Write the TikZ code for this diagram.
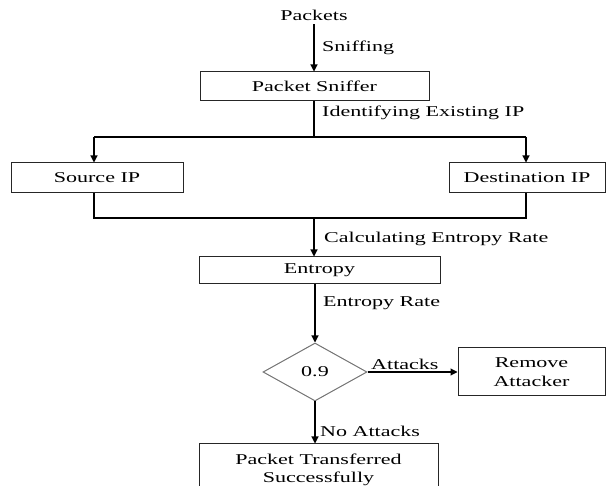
\documentclass[tikz,border=0pt]{standalone}
\usepackage{fontspec}
\setmainfont{Liberation Serif}[FakeStretch=1.47]
\usetikzlibrary{shapes.geometric,arrows.meta}
\begin{document}
\begin{tikzpicture}[x=1pt,y=-1pt,
  font=\fontsize{15}{18.5}\selectfont,
  box/.style={draw=black!85,line width=1pt,inner sep=0pt,align=center},
  dia/.style={draw=black!55,line width=1pt,diamond,inner sep=0pt,minimum width=104pt,minimum height=58pt},
  arr/.style={line width=1.1pt,-{Triangle[length=7pt,width=7pt]}},
  ln/.style={line width=1.1pt},
  lbl/.style={anchor=west,inner sep=0pt}]
\useasboundingbox (0,0) rectangle (606,486);
\clip (0,0) rectangle (606,486);
\node[inner sep=0pt] (packets) at (314,15) {Packets};
\node[box,minimum width=229pt,minimum height=29pt] (sniffer) at (314.5,86.5) {Packet Sniffer};
\node[box,minimum width=172pt,minimum height=30pt] (src) at (97,178) {Source IP};
\node[box,minimum width=156pt,minimum height=30pt] (dst) at (527,178) {Destination IP};
\node[box,minimum width=241pt,minimum height=27pt] (entropy) at (319.5,270.5) {Entropy};
\node[dia] (dec) at (315,372) {0.9};
\node[box,minimum width=147pt,minimum height=48pt] (remove) at (531.5,372) {Remove\\Attacker};
\node[box,minimum width=239pt,minimum height=52pt] (final) at (318.5,470) {Packet Transferred\\Successfully};
\coordinate (top) at (314,137);
\coordinate (tl) at (94,137);
\coordinate (tr) at (526,137);
\coordinate (bl) at (94,218);
\coordinate (br) at (526,218);
\coordinate (bm) at (314,218);
\draw[arr] (packets.south -| sniffer.north) ++(-0.5,4) coordinate (p0) -- (p0 |- sniffer.north);
\draw[ln] (sniffer.south -| top) -- (top);
\draw[ln] (tl) -- (tr);
\draw[arr] (tl) -- (tl |- src.north);
\draw[arr] (tr) -- (tr |- dst.north);
\draw[ln] (src.south -| bl) -- (bl) -- (br) -- (dst.south -| br);
\draw[arr] (bm) -- (bm |- entropy.north);
\draw[arr] (entropy.south -| dec.north) -- (dec.north);
\draw[arr] (dec.east) -- (remove.west);
\draw[arr] (dec.south) -- (dec.south |- final.north);
\node[lbl] (l1) at (322,48) {Sniffing};
\node[lbl] (l2) at (322,113) {Identifying Existing IP};
\node[lbl] (l3) at (324,239) {Calculating Entropy Rate};
\node[lbl] (l4) at (323,303) {Entropy Rate};
\node[anchor=base west,inner sep=0pt] (l5) at (371,370) {Attacks};
\node[lbl] (l6) at (320,431) {No Attacks};
\end{tikzpicture}
\end{document}
